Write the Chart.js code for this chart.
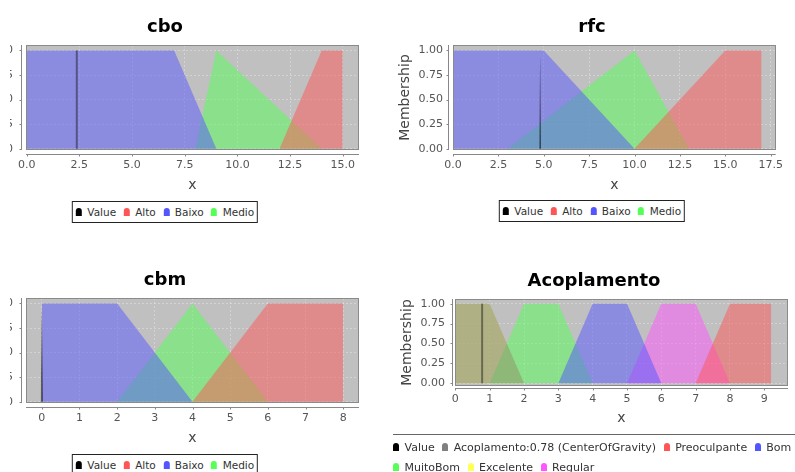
<!DOCTYPE html>
<html>
<head>
<meta charset="utf-8">
<title>Fuzzy membership functions</title>
<script src="https://cdn.jsdelivr.net/npm/chart.js@4.4.1/dist/chart.umd.min.js"></script>
<style>
  html, body { margin: 0; padding: 0; background: #fff; }
  body { position: relative; width: 795px; height: 472px; overflow: hidden; }
  .panel { position: absolute; overflow: hidden; }
  .panel canvas { display: block; }
  .legend { position: absolute; display: flex; align-items: center; white-space: nowrap;
            font: 10.5px "DejaVu Sans", sans-serif; color: #333; box-sizing: border-box; }
  .legend.boxed { border: 1px solid #222; height: 22px; padding: 0 3px; transform: translateX(-50%); }
  .legend.open { border-top: 1px solid #666; flex-wrap: wrap; align-items: flex-start; padding-top: 2px; font-size: 11px; }
  .legend.open .item { height: 20px; }
  .item { display: flex; align-items: center; margin-right: 7.5px; }
  .item:last-child { margin-right: 0; }
  .sym { display: inline-block; width: 6px; height: 8px; border-radius: 3px 3px 0 0; margin-right: 5.5px; }
</style>
</head>
<body>
<div class="panel" style="left:10px; top:0px; width:390px; height:200px;"><canvas id="cboChart" width="400" height="200" style="margin-left:-45px"></canvas></div>
<div class="panel" style="left:392px; top:0px; width:403px; height:200px;"><canvas id="rfcChart" width="400" height="200"></canvas></div>
<div class="panel" style="left:10px; top:253px; width:390px; height:200px;"><canvas id="cbmChart" width="400" height="200" style="margin-left:-45px"></canvas></div>
<div class="panel" style="left:394px; top:254px; width:401px; height:182px;"><canvas id="acopChart" width="400" height="182"></canvas></div>

<div class="legend boxed" id="cboLegend" style="left:165px; top:201px;"></div>
<div class="legend boxed" id="rfcLegend" style="left:592px; top:200px;"></div>
<div class="legend boxed" id="cbmLegend" style="left:165px; top:454px;"></div>
<div class="legend open" id="acopLegend" style="left:393px; top:434px; width:420px;"></div>

<script>
// ---- membership axis (shared) ----
const membershipTicks = [0, 0.25, 0.5, 0.75, 1];

// ---- cbo ----
const cboTicks = [0, 2.5, 5, 7.5, 10, 12.5, 15];
const cboValue = 2.38;
const cboAlto  = [[12, 0], [14, 1], [15, 1], [15, 0]];
const cboBaixo = [[0, 0], [0, 1], [7, 1], [9, 0]];
const cboMedio = [[8, 0], [9, 1], [14, 0]];

// ---- rfc ----
const rfcTicks = [0, 2.5, 5, 7.5, 10, 12.5, 15, 17.5];
const rfcValue = 4.8;
const rfcValueTop = 0.95;
const rfcAlto  = [[10, 0], [15, 1], [17, 1], [17, 0]];
const rfcBaixo = [[0, 0], [0, 1], [5, 1], [10, 0]];
const rfcMedio = [[3, 0], [10, 1], [13, 0]];

// ---- cbm ----
const cbmTicks = [0, 1, 2, 3, 4, 5, 6, 7, 8];
const cbmValue = 0;
const cbmValueTop = 0.95;
const cbmAlto  = [[4, 0], [6, 1], [8, 1], [8, 0]];
const cbmBaixo = [[0, 0], [0, 1], [2, 1], [4, 0]];
const cbmMedio = [[2, 0], [4, 1], [6, 0]];

// ---- Acoplamento (output variable) ----
const acopTicks = [0, 1, 2, 3, 4, 5, 6, 7, 8, 9];
const acopValue = 0.78;
const acopOutput       = [[0, 0], [0, 1], [1, 1], [2, 0]];
const acopPreoculpante = [[7, 0], [8, 1], [9.2, 1], [9.2, 0]];
const acopBom          = [[3, 0], [4, 1], [5, 1], [6, 0]];
const acopMuitoBom     = [[1, 0], [2, 1], [3, 1], [4, 0]];
const acopExcelente    = [[0, 0], [0, 1], [1, 1], [2, 0]];
const acopRegular      = [[5, 0], [6, 1], [7, 1], [8, 0]];

// ---- series paints ----
const BLACK = [0, 0, 0], GRAY = [128, 128, 128];
const RED = [255, 85, 85], BLUE = [85, 85, 255], GREEN = [85, 255, 85];
const YELLOW = [255, 255, 85], MAGENTA = [255, 85, 255];

const FONT = '"DejaVu Sans", sans-serif';
const TICK_COLOR = '#555';
const LABEL_COLOR = '#444';
const GRID_COLOR = 'rgba(255,255,255,0.3)';

const rgba = (c, a) => `rgba(${c[0]},${c[1]},${c[2]},${a})`;
const pts = arr => arr.map(([x, y]) => ({ x, y }));

function areaSet(label, data, color) {
  return {
    label, data: pts(data), legendColor: rgba(color, 1),
    backgroundColor: rgba(color, 0.5), borderColor: 'transparent', borderWidth: 0,
    fill: 'origin', pointRadius: 0, tension: 0
  };
}
// crisp input value drawn as a vertical bar
function valueBar(x, top) {
  return {
    label: 'Value', data: pts([[x, 0], [x, top]]), legendColor: rgba(BLACK, 1),
    borderColor: rgba(BLACK, 0.4), borderWidth: 2, fill: false, pointRadius: 0
  };
}
// crisp input value drawn as a thin spike
function valueSpike(x, top, half) {
  return {
    label: 'Value', data: pts([[x - half, 0], [x, top], [x + half, 0]]), legendColor: rgba(BLACK, 1),
    backgroundColor: rgba(BLACK, 0.55), borderColor: 'transparent', borderWidth: 0,
    fill: 'origin', pointRadius: 0
  };
}

// plot background, outline and the detached axis lines with their tick marks
const framePlugin = {
  id: 'frame',
  beforeDraw(chart) {
    const { ctx, chartArea: a } = chart;
    ctx.save();
    ctx.fillStyle = '#c0c0c0';
    ctx.fillRect(a.left, a.top, a.right - a.left, a.bottom - a.top);
    ctx.restore();
  },
  afterDatasetsDraw(chart, args, opts) {
    const { ctx, chartArea: a, scales: { x, y } } = chart;
    const gap = opts.gap;
    ctx.save();
    ctx.lineWidth = 1;
    ctx.strokeStyle = '#8a8a8a';
    ctx.strokeRect(Math.round(a.left) + 0.5, Math.round(a.top) + 0.5,
                   Math.round(a.right - a.left) - 1, Math.round(a.bottom - a.top) - 1);
    ctx.strokeStyle = '#888';
    ctx.beginPath();
    const ay = Math.round(a.bottom) + gap + 0.5;
    ctx.moveTo(a.left, ay); ctx.lineTo(a.right, ay);
    x.ticks.forEach(t => {
      const px = Math.round(x.getPixelForValue(t.value)) + 0.5;
      ctx.moveTo(px, ay); ctx.lineTo(px, ay + 2);
    });
    const ax = Math.round(a.left) - gap - 0.5;
    ctx.moveTo(ax, a.top); ctx.lineTo(ax, a.bottom);
    y.ticks.forEach(t => {
      const py = Math.round(y.getPixelForValue(t.value)) + 0.5;
      ctx.moveTo(ax, py); ctx.lineTo(ax - 2, py);
    });
    ctx.stroke();
    ctx.restore();
  }
};

function build(cfg) {
  const chart = new Chart(document.getElementById(cfg.canvas), {
    type: 'line',
    data: { datasets: cfg.datasets },
    options: {
      responsive: false, animation: false, events: [],
      layout: { padding: { left: 6, right: 6, top: 0, bottom: 0 } },
      plugins: {
        legend: { display: false },
        tooltip: { enabled: false },
        title: {
          display: true, text: cfg.title, color: '#000',
          font: { family: FONT, size: 18, weight: 'bold', lineHeight: 1.2 },
          padding: { top: 16.7, bottom: 6.7 }
        },
        frame: { gap: cfg.gap }
      },
      scales: {
        x: {
          type: 'linear', min: cfg.xMin, max: cfg.xMax,
          afterBuildTicks: s => { s.ticks = cfg.xTicks.map(value => ({ value })); },
          afterFit: s => { s.height = cfg.xAxisH; },
          ticks: {
            callback: v => v.toFixed(cfg.xDec), padding: cfg.xTickPad, color: TICK_COLOR,
            font: { family: FONT, size: 11 }, autoSkip: false, maxRotation: 0
          },
          grid: { color: GRID_COLOR, drawTicks: false, lineWidth: 1 },
          border: { display: false, dash: [2, 2] },
          title: {
            display: true, text: 'x', color: LABEL_COLOR,
            font: { family: FONT, size: 14 }, padding: { top: 0, bottom: cfg.xTitlePad }
          }
        },
        y: {
          type: 'linear', min: cfg.yMin, max: cfg.yMax,
          afterBuildTicks: s => { s.ticks = membershipTicks.map(value => ({ value })); },
          afterFit: s => { s.width = 55; },
          ticks: {
            callback: v => v.toFixed(2), padding: cfg.yTickPad, color: TICK_COLOR,
            font: { family: FONT, size: 11 }, autoSkip: false
          },
          grid: { color: GRID_COLOR, drawTicks: false, lineWidth: 1 },
          border: { display: false, dash: [2, 2] },
          title: {
            display: true, text: 'Membership', color: LABEL_COLOR,
            font: { family: FONT, size: 14, lineHeight: 1 }, padding: { top: 0.8, bottom: 0 }
          }
        }
      }
    },
    plugins: [framePlugin]
  });
  // legend entries taken from the datasets
  const box = document.getElementById(cfg.legend);
  chart.data.datasets.forEach(ds => {
    const item = document.createElement('span');
    item.className = 'item';
    const sym = document.createElement('i');
    sym.className = 'sym';
    sym.style.background = ds.legendColor;
    item.appendChild(sym);
    item.appendChild(document.createTextNode(ds.label));
    box.appendChild(item);
  });
  return chart;
}

const topGeom = { xAxisH: 50, xTickPad: 9, xTitlePad: 6.2, gap: 4, yMin: -0.012, yMax: 1.055 };

build(Object.assign({}, topGeom, {
  canvas: 'cboChart', legend: 'cboLegend', title: 'cbo',
  xMin: -0.03, xMax: 15.77, xTicks: cboTicks, xDec: 1, yTickPad: 13,
  datasets: [
    valueBar(cboValue, 1),
    areaSet('Alto', cboAlto, RED),
    areaSet('Baixo', cboBaixo, BLUE),
    areaSet('Medio', cboMedio, GREEN)
  ]
}));

build(Object.assign({}, topGeom, {
  canvas: 'rfcChart', legend: 'rfcLegend', title: 'rfc',
  xMin: 0, xMax: 17.78, xTicks: rfcTicks, xDec: 1, yTickPad: 10,
  datasets: [
    valueSpike(rfcValue, rfcValueTop, 0.05),
    areaSet('Alto', rfcAlto, RED),
    areaSet('Baixo', rfcBaixo, BLUE),
    areaSet('Medio', rfcMedio, GREEN)
  ]
}));

build(Object.assign({}, topGeom, {
  canvas: 'cbmChart', legend: 'cbmLegend', title: 'cbm',
  xMin: -0.42, xMax: 8.42, xTicks: cbmTicks, xDec: 0, yTickPad: 13,
  datasets: [
    valueSpike(cbmValue, cbmValueTop, 0.03),
    areaSet('Alto', cbmAlto, RED),
    areaSet('Baixo', cbmBaixo, BLUE),
    areaSet('Medio', cbmMedio, GREEN)
  ]
}));

build({
  canvas: 'acopChart', legend: 'acopLegend', title: 'Acoplamento',
  xAxisH: 50, xTickPad: 6.8, xTitlePad: 8.8, gap: 2, yMin: -0.034, yMax: 1.059,
  xMin: -0.01, xMax: 9.69, xTicks: acopTicks, xDec: 0, yTickPad: 10,
  datasets: [
    valueBar(acopValue, 1),
    areaSet(`Acoplamento:${acopValue.toFixed(2)} (CenterOfGravity)`, acopOutput, GRAY),
    areaSet('Preoculpante', acopPreoculpante, RED),
    areaSet('Bom', acopBom, BLUE),
    areaSet('MuitoBom', acopMuitoBom, GREEN),
    areaSet('Excelente', acopExcelente, YELLOW),
    areaSet('Regular', acopRegular, MAGENTA)
  ]
});
</script>
</body>
</html>
